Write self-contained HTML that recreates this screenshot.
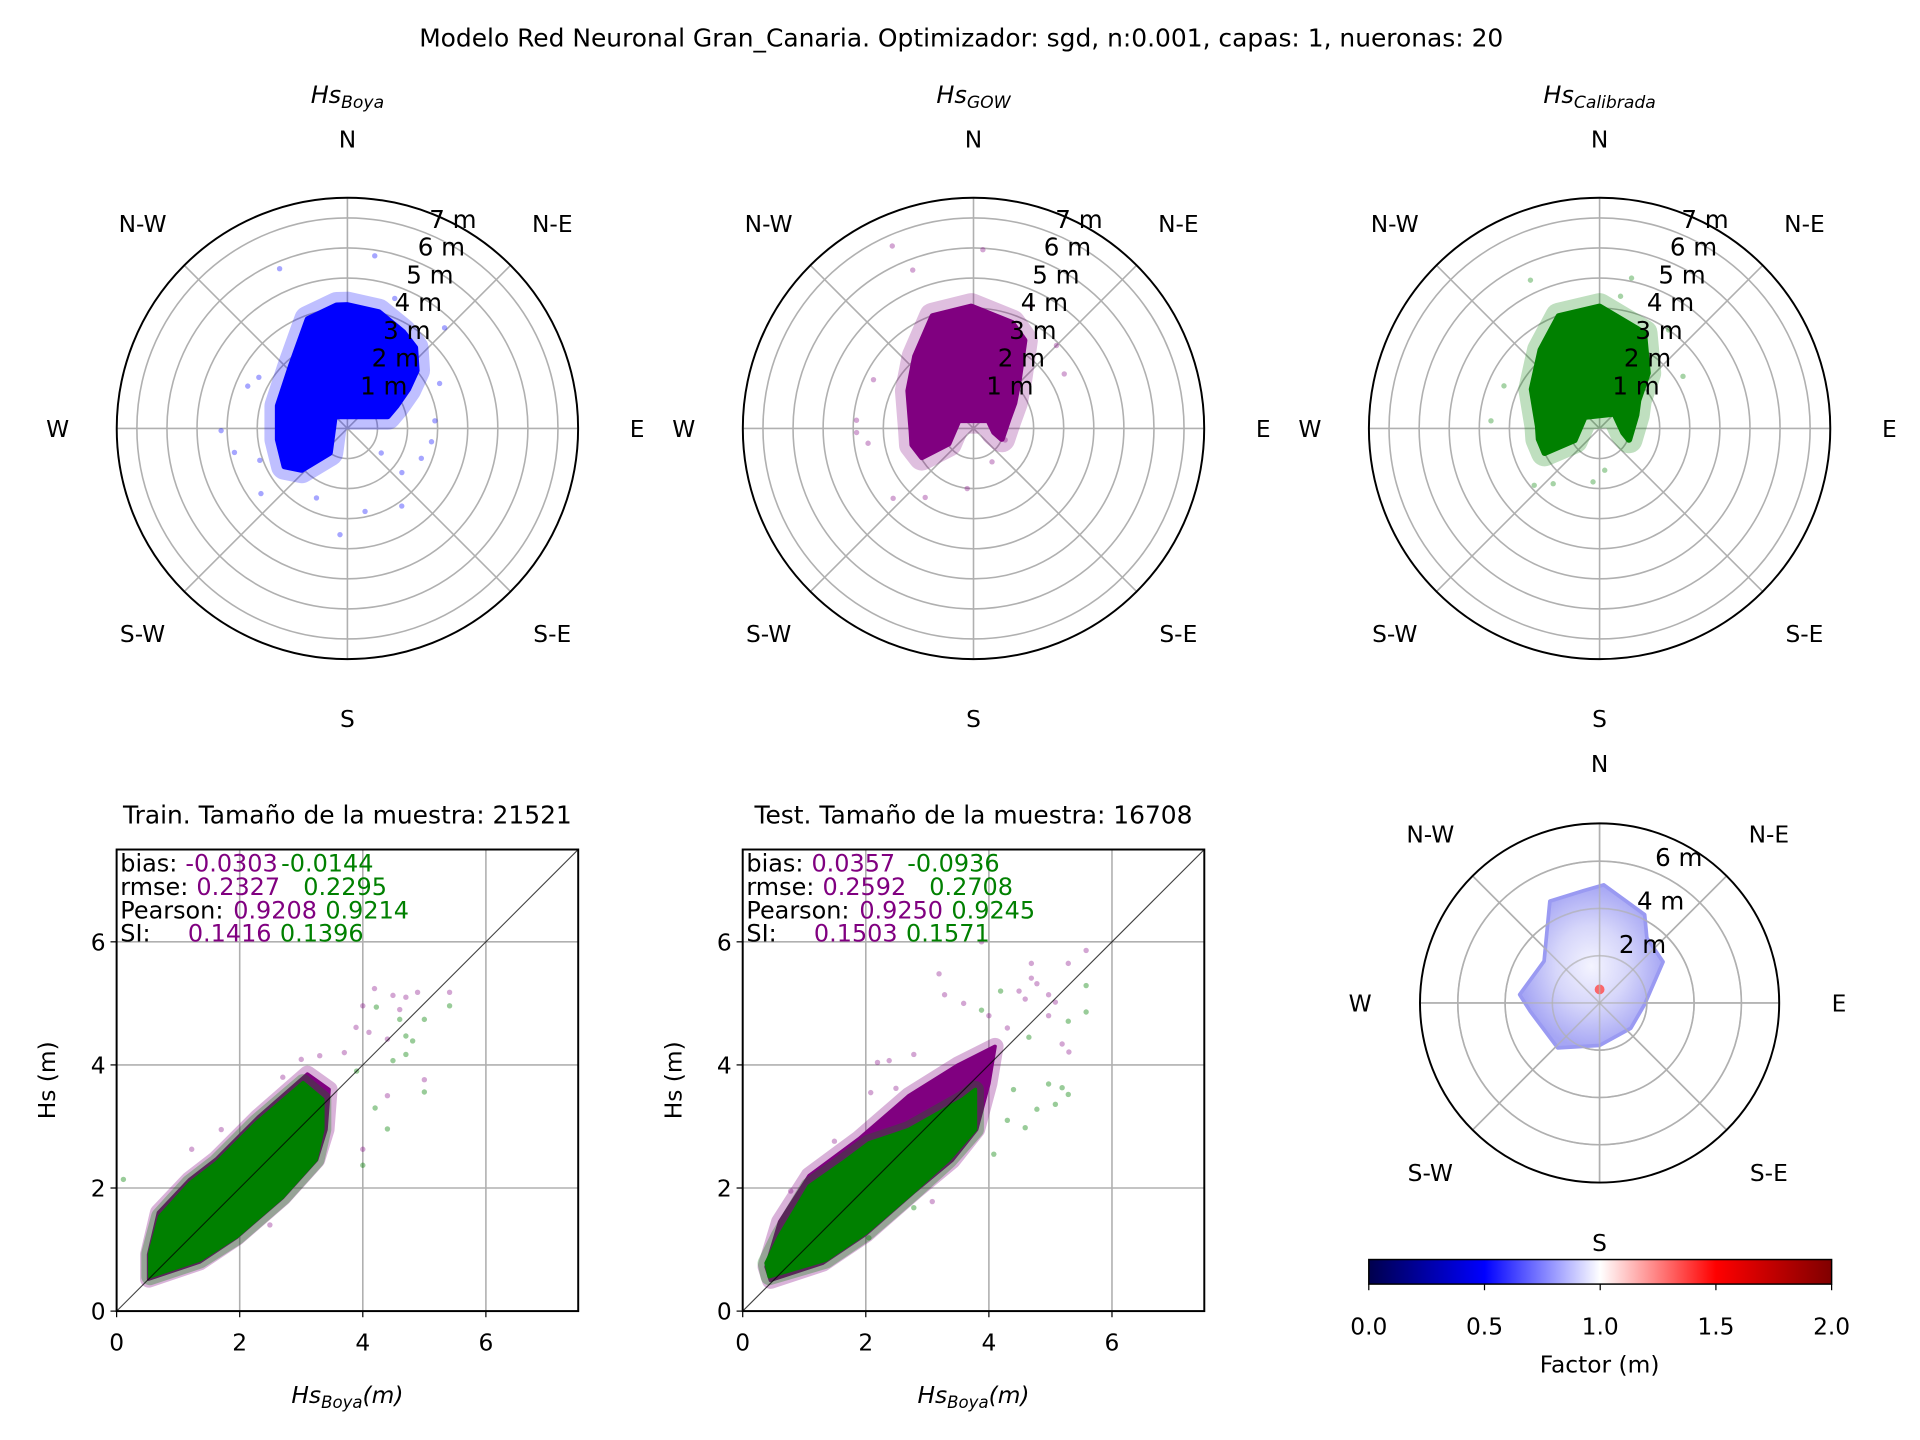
<!DOCTYPE html>
<html><head><meta charset="utf-8"><style>
html,body{margin:0;padding:0;background:#fff;overflow:hidden;width:1920px;height:1440px;}
svg{display:block;font-family:"DejaVu Sans","Liberation Sans",sans-serif;}
</style></head><body>
<svg id="fig" width="1920" height="1440" viewBox="0 0 1564 1173" preserveAspectRatio="none" xmlns="http://www.w3.org/2000/svg">
<defs>
<linearGradient id="seismic" x1="0" x2="1" y1="0" y2="0">
<stop offset="0" stop-color="#00004d"/><stop offset="0.25" stop-color="#0000ff"/><stop offset="0.5" stop-color="#ffffff"/><stop offset="0.75" stop-color="#ff0000"/><stop offset="1" stop-color="#800000"/>
</linearGradient>
<radialGradient id="facgrad" cx="0.5" cy="0.5" r="0.5">
<stop offset="0" stop-color="#f4f4ff"/><stop offset="0.5" stop-color="#d6d6fa"/><stop offset="1" stop-color="#a6a6f4"/>
</radialGradient>
<clipPath id="clipTrain"><rect x="95" y="692" width="376" height="376"/></clipPath>
<clipPath id="clipTest"><rect x="605" y="692" width="376" height="376"/></clipPath>
</defs>
<text x="783" y="38" font-size="20.3" text-anchor="middle">Modelo Red Neuronal Gran_Canaria. Optimizador: sgd, n:0.001, capas: 1, nueronas: 20</text>
<g id="root"></g>
</svg>
<script>
// ---- polar data: dense envelope (angle deg clockwise from N, radius m) ----
const boyaEnvAng = [355,0,15,30,40,50,57,65,73,314,216,228,239,261,288,318,340];
const boyaEnvR   = [4.1,4.1,4.0,3.7,3.5,3.0,2.4,1.8,1.4,0.59,1.0,2.05,2.44,2.34,2.43,2.8,3.86];
const boyaPtsAng = [9,337,44,64,85,99,145,168,184,204,269,258,293,233,129,126,112,20,300,250];
const boyaPtsR   = [5.81,5.77,4.65,3.41,2.92,2.83,3.15,2.82,3.54,2.53,4.2,3.84,3.6,3.6,2.33,1.39,2.65,4.6,3.4,3.1];
const gowEnvAng = [359,20,30,43,58,75,110,100,61,299,239,241,255,268,300,321,340];
const gowEnvR   = [4.05,3.73,3.38,2.2,1.6,1.2,1.0,0.7,0.57,0.57,0.97,1.96,2.1,2.06,2.5,3.08,3.97];
const gowPtsAng = [336,3,339,59,274,268,262,229,186,110,151,296,25,45,215];
const gowPtsR   = [6.64,5.95,5.64,3.52,3.9,3.89,3.54,3.54,2.01,1.12,1.27,3.7,4.5,3.9,2.8];
const calEnvAng = [0,25,41,54,70,111,100,45,308,245,246,260,272,300,323,340];
const calEnvR   = [4.05,3.5,2.44,1.59,1.3,1.05,0.8,0.7,0.63,0.92,2.0,2.05,2.05,2.6,3.26,3.97];
const calPtsAng = [335,12,58,274,294,229,187,112,173,9,35,220];
const calPtsR   = [5.44,5.11,3.27,3.62,3.48,2.88,1.79,1.02,1.4,4.45,4.0,2.4];
const facEnvAng = [2,27,36,57,92,129,180,223,263,276,307,334,352];
const facEnvR   = [5.0,4.2,3.4,3.2,1.9,1.7,1.8,2.6,2.95,3.4,2.94,4.8,4.8];
const ringLabels7 = ["1 m","2 m","3 m","4 m","5 m","6 m","7 m"];
const compass = ["N","N-E","E","S-E","S","S-W","W","N-W"];
// ---- scatter data (Hs_Boya, Hs model) ----
const trainGreenEnvX = [0.54,1.35,1.95,2.7,3.24,3.35,3.35,3.03,2.27,1.62,1.19,0.7,0.54];
const trainGreenEnvY = [0.56,0.83,1.21,1.86,2.46,2.95,3.44,3.71,3.06,2.41,2.08,1.54,0.94];
const trainPurpleEnvX = [0.52,1.35,1.95,2.7,3.25,3.4,3.45,3.1,2.3,1.62,1.18,0.68,0.52];
const trainPurpleEnvY = [0.52,0.8,1.2,1.85,2.46,2.95,3.6,3.85,3.15,2.47,2.13,1.6,0.92];
const trainPurpleX = [4.19,4.49,4.89,5.41,4.7,4.0,3.89,4.1,4.4,5.0,3.0,3.3,2.7,4.4,4.0,1.7,1.22,2.49,4.6,3.7];
const trainPurpleY = [5.24,5.13,5.18,5.18,5.1,4.96,4.61,4.53,4.42,3.76,4.09,4.15,3.8,3.5,2.63,2.95,2.63,1.4,4.9,4.2];
const trainGreenX = [5.41,5.0,4.81,4.7,4.49,5.0,4.4,4.0,4.6,4.22,4.7,0.11,3.9,4.2];
const trainGreenY = [4.96,4.74,4.39,4.17,4.07,3.56,2.96,2.37,4.74,4.94,4.47,2.14,3.9,3.3];
const testGreenEnvX = [0.43,1.35,2.0,2.81,3.35,3.78,3.78,3.57,2.7,2.05,1.62,1.08,0.59,0.38];
const testGreenEnvY = [0.56,0.83,1.27,1.97,2.46,2.95,3.6,3.44,2.95,2.73,2.41,2.03,1.21,0.78];
const testPurpleEnvX = [0.45,1.3,2.0,2.8,3.4,3.8,4.0,4.1,3.5,2.7,1.89,1.08,0.6,0.38];
const testPurpleEnvY = [0.5,0.78,1.25,1.95,2.45,2.95,3.7,4.3,4.0,3.5,2.8,2.2,1.45,0.72];
const testPurpleX = [3.88,5.58,4.69,5.29,3.19,3.28,4.69,4.78,4.97,5.08,3.59,4.49,4.59,4.97,5.19,5.3,2.78,2.38,2.19,2.08,2.49,1.49,0.78,3.08,4.3,4.0];
const testPurpleY = [6.0,5.86,5.65,5.65,5.48,5.14,5.41,5.32,5.14,5.02,5.0,5.2,5.07,4.8,4.34,4.21,4.17,4.07,4.04,3.55,3.62,2.76,1.95,1.78,4.6,4.8];
const testGreenX = [5.58,5.58,5.29,4.19,3.88,5.19,5.29,5.08,4.78,4.59,4.08,4.97,2.78,2.05,4.65,4.4,4.3];
const testGreenY = [5.29,4.86,4.71,5.2,4.89,3.63,3.52,3.36,3.28,2.98,2.55,3.69,1.68,1.19,4.45,3.6,3.1];
const axisTicks = [0,2,4,6];
const cbTicks = ["0.0","0.5","1.0","1.5","2.0"];
const cbTickVals = [0,0.5,1,1.5,2];
const trainStats = {p:["-0.0303","0.2327","0.9208","0.1416"], g:["-0.0144","0.2295","0.9214","0.1396"]};
const testStats = {p:["0.0357","0.2592","0.9250","0.1503"], g:["-0.0936","0.2708","0.9245","0.1571"]};

const NS="http://www.w3.org/2000/svg";
const root=document.getElementById('root');
function el(tag,attrs,parent,txt){const e=document.createElementNS(NS,tag);for(const k in attrs)e.setAttribute(k,attrs[k]);if(txt!==undefined)e.textContent=txt;(parent||root).appendChild(e);return e;}

function polar(cx,cy,k,rOuter,ringVals,lblPx,titleMain,titleSub,name){
  const g=el('g',{});
  
  
  const P=(a,r)=>[cx+r*k*Math.sin(a*Math.PI/180), cy-r*k*Math.cos(a*Math.PI/180)];
  ringVals.forEach(v=>{const c=el('circle',{cx:cx,cy:cy,r:v*k,fill:'none',stroke:'#b0b0b0','stroke-width':1.3},g);
    });
  for(let a=0;a<360;a+=45){const p=P(a,rOuter);const l=el('line',{x1:cx,y1:cy,x2:p[0],y2:p[1],stroke:'#b0b0b0','stroke-width':1.3},g);
    }
  compass.forEach((c,i)=>{const p=P(i*45,lblPx/k);const t=el('text',{x:p[0],y:p[1]+7,'font-size':19,'text-anchor':'middle'},g,c);
    });
  if(titleMain){const t=el('text',{x:cx,y:cy-265,'font-size':19.5,'text-anchor':'middle','font-style':'italic'},g);
    
    el('tspan',{},t,titleMain);el('tspan',{'font-size':14,dy:4},t,titleSub);}
  return {g,P,draw(){
    const o=el('circle',{cx:cx,cy:cy,r:rOuter*k,fill:'none',stroke:'#000','stroke-width':1.6},g);
    
  }};
}
function blob(pol,angs,rs,color,pa,pr,name){
  const pts=angs.map((a,i)=>pol.P(a,rs[i]).map(v=>v.toFixed(1)).join(',')).join(' ');
  const halo=el('polygon',{points:pts,fill:color,'fill-opacity':0.3,stroke:color,'stroke-opacity':0.25,'stroke-width':22,'stroke-linejoin':'round'},pol.g);
  
  const b=el('polygon',{points:pts,fill:color,stroke:color,'stroke-width':5,'stroke-linejoin':'round'},pol.g);
  
  pa.forEach((a,i)=>{const p=pol.P(a,pr[i]);const c=el('circle',{cx:p[0],cy:p[1],r:2.2,fill:color,'fill-opacity':0.35},pol.g);
    });
}
function ringLbl(pol,vals,labels){vals.forEach((v,i)=>{const p=pol.P(22.5,v);const t=el('text',{x:p[0]+1,y:p[1]-5,'font-size':20},pol.g,labels[i]);
  });}
const rings7=[1,2,3,4,5,6,7];
const p1=polar(283,349,24.5,7.67,rings7,236,'Hs','Boya','polar-hs-boya');
blob(p1,boyaEnvAng,boyaEnvR,'#0000ff',boyaPtsAng,boyaPtsR,'boya');
p1.draw();ringLbl(p1,rings7,ringLabels7);
const p2=polar(793,349,24.5,7.67,rings7,236,'Hs','GOW','polar-hs-gow');
blob(p2,gowEnvAng,gowEnvR,'#800080',gowPtsAng,gowPtsR,'gow');
p2.draw();ringLbl(p2,rings7,ringLabels7);
const p3=polar(1303,349,24.5,7.67,rings7,236,'Hs','Calibrada','polar-hs-calibrada');
blob(p3,calEnvAng,calEnvR,'#008000',calPtsAng,calPtsR,'calibrada');
p3.draw();ringLbl(p3,rings7,ringLabels7);
// factor polar
const p4=polar(1303,817,19.25,7.6,[2,4,6],195,null,null,'polar-factor');
{const pts=facEnvAng.map((a,i)=>p4.P(a,facEnvR[i]).map(v=>v.toFixed(1)).join(',')).join(' ');
 const b=el('polygon',{points:pts,fill:'url(#facgrad)',stroke:'#9a9af2','stroke-width':3,'stroke-linejoin':'round'},p4.g);
 
 const h=el('circle',{cx:1303,cy:806,r:4,fill:'#ff5050','fill-opacity':0.85},p4.g);
 
 [2,4,6].forEach(v=>{const c=el('circle',{cx:1303,cy:817,r:v*19.25,fill:'none',stroke:'#b0b0b0','stroke-width':1.3,'stroke-opacity':0.7},p4.g);
   });
 for(let a=0;a<360;a+=45){const p=p4.P(a,7.6);const l=el('line',{x1:1303,y1:817,x2:p[0],y2:p[1],stroke:'#b0b0b0','stroke-width':1.3,'stroke-opacity':0.7},p4.g);
   }
}
p4.draw();
ringLbl(p4,[2,4,6],["2 m","4 m","6 m"]);

// colorbar
{const g=el('g',{});
 const x0=1115,w=377,y0=1026,h=20;
 const r=el('rect',{x:x0,y:y0,width:w,height:h,fill:'url(#seismic)',stroke:'#000','stroke-width':1.2},g);
 
 cbTickVals.forEach((v,i)=>{const x=x0+v/2*w;el('line',{x1:x,y1:y0+h,x2:x,y2:y0+h+5,stroke:'#000','stroke-width':1},g);
  const t=el('text',{x:x,y:1087,'font-size':19,'text-anchor':'middle'},g,cbTicks[i]);
  });
 const lbl=el('text',{x:1303,y:1118,'font-size':19,'text-anchor':'middle'},g,'Factor (m)');
 
}

function scatter(x0,title,clip,gEnvX,gEnvY,pEnvX,pEnvY,pX,pY,gX,gY,stats,name){
  const g=el('g',{});
  const y0=692,S=376,max=7.5;
  const X=v=>x0+v/max*S, Y=v=>y0+S-v/max*S;
  axisTicks.forEach(v=>{
    const a=el('line',{x1:X(v),y1:y0,x2:X(v),y2:y0+S,stroke:'#b0b0b0','stroke-width':1.3},g);
    
    const b=el('line',{x1:x0,y1:Y(v),x2:x0+S,y2:Y(v),stroke:'#b0b0b0','stroke-width':1.3},g);
    
    el('line',{x1:X(v),y1:y0+S,x2:X(v),y2:y0+S+5,stroke:'#000'},g);
    el('line',{x1:x0-5,y1:Y(v),x2:x0,y2:Y(v),stroke:'#000'},g);
    const tx=el('text',{x:X(v),y:y0+S+32,'font-size':19,'text-anchor':'middle'},g,String(v));
    
    const ty=el('text',{x:x0-9,y:Y(v)+7,'font-size':19,'text-anchor':'end'},g,String(v));
    
  });
  const cg=el('g',{'clip-path':'url(#'+clip+')'},g);
  const poly=(xs,ys,col,nm)=>{const pts=xs.map((v,i)=>X(v).toFixed(1)+','+Y(ys[i]).toFixed(1)).join(' ');
    const h=el('polygon',{points:pts,fill:col,'fill-opacity':0.4,stroke:col,'stroke-opacity':0.3,'stroke-width':14,'stroke-linejoin':'round'},cg);
    
    const p=el('polygon',{points:pts,fill:col,stroke:col,'stroke-width':3,'stroke-linejoin':'round'},cg);
    };
  poly(pEnvX,pEnvY,'#800080','gow-cloud');
  poly(gEnvX,gEnvY,'#008000','calibrada-cloud');
  pX.forEach((v,i)=>{const c=el('circle',{cx:X(v),cy:Y(pY[i]),r:2.2,fill:'#800080','fill-opacity':0.35},cg);
    });
  gX.forEach((v,i)=>{const c=el('circle',{cx:X(v),cy:Y(gY[i]),r:2.2,fill:'#008000','fill-opacity':0.4},cg);
    });
  const d=el('line',{x1:X(0),y1:Y(0),x2:X(max),y2:Y(max),stroke:'#000','stroke-opacity':0.75,'stroke-width':0.9},cg);
  
  const fr=el('rect',{x:x0,y:y0,width:S,height:S,fill:'none',stroke:'#000','stroke-width':1.6},g);
  
  const t=el('text',{x:x0+188,y:671,'font-size':20.3,'text-anchor':'middle'},g,title);
  
  const yl=el('text',{x:0,y:0,'font-size':19,'text-anchor':'middle',transform:'translate('+(x0-50)+',880) rotate(-90)'},g,'Hs (m)');
  
  const xl=el('text',{x:x0+188,y:1143,'font-size':19,'text-anchor':'middle','font-style':'italic'},g);
  
  el('tspan',{},xl,'Hs');el('tspan',{'font-size':13.5,dy:4},xl,'Boya');el('tspan',{dy:-4},xl,'(m)');
  const labels=['bias:','rmse:','Pearson:','SI:'];
  const px=[56,65,95,58], gx=[134,152,170,133];
  labels.forEach((l,i)=>{const yb=710+i*19;
    const a=el('text',{x:x0+3,y:yb,'font-size':19.5},g,l);
    const b=el('text',{x:x0+px[i],y:yb,'font-size':19.5,fill:'#800080'},g,stats.p[i]);
    const c=el('text',{x:x0+gx[i],y:yb,'font-size':19.5,fill:'#008000'},g,stats.g[i]);
  });
}
scatter(95,'Train. Tamaño de la muestra: 21521','clipTrain',trainGreenEnvX,trainGreenEnvY,trainPurpleEnvX,trainPurpleEnvY,trainPurpleX,trainPurpleY,trainGreenX,trainGreenY,trainStats,'train-scatter');
scatter(605,'Test. Tamaño de la muestra: 16708','clipTest',testGreenEnvX,testGreenEnvY,testPurpleEnvX,testPurpleEnvY,testPurpleX,testPurpleY,testGreenX,testGreenY,testStats,'test-scatter');
</script>
</body></html>
